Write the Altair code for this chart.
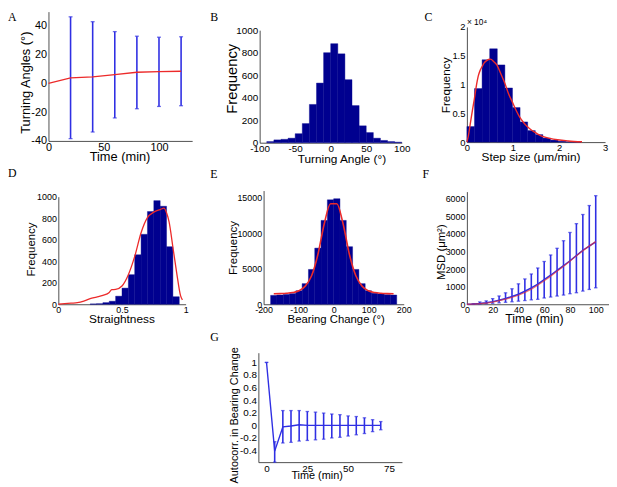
import altair as alt
import pandas as pd

W, H = 609, 479
SANS = "Liberation Sans"
SERIF = "Liberation Serif"
NARROW = "Liberation Sans Narrow, Liberation Sans"
NAVY = "#00008f"
BLUE = "#2f2fe3"
RED = "#ec2a2a"

# ---------------- data ----------------
# A: turning angle vs time
a_t = [0, 20, 40, 60, 80, 100, 120]
a_mean = [0, 3.9, 4.6, 6.2, 7.8, 8.2, 8.5]
a_err_t = [20, 40, 60, 80, 100, 120]
a_low = [-38.4, -33.8, -24.0, -17.6, -16.0, -15.5]
a_high = [46.4, 43.0, 36.1, 32.9, 32.2, 32.5]

# B: turning angle histogram
b_edges = [-90, -80, -70, -60, -50, -40, -30, -20, -10, 0, 10, 20, 30, 40, 50, 60, 70, 80, 90, 100]
b_count = [10, 25, 30, 40, 80, 170, 340, 530, 800, 880, 790, 560, 330, 150, 90, 40, 20, 10, 5]

# C: step size histogram + fit
c_edges = [0, 0.165, 0.33, 0.495, 0.66, 0.825, 0.99, 1.155, 1.32, 1.485, 1.65, 1.815, 1.98, 2.145, 2.31, 2.475]
c_count = [2700, 9300, 14300, 16200, 13400, 9400, 6000, 3500, 2000, 1300, 700, 350, 150, 60, 20]
c_fit_x = [0, 0.03, 0.07, 0.12, 0.16, 0.2, 0.245, 0.29, 0.33, 0.38, 0.42, 0.47, 0.51, 0.58, 0.65, 0.73,
           0.82, 0.9, 0.99, 1.07, 1.15, 1.23, 1.31, 1.4, 1.48, 1.56, 1.64, 1.8, 1.97, 2.2, 2.5]
c_fit_y = [0, 1000, 3000, 5500, 7400, 9500, 11400, 12500, 13100, 13800, 14100, 14350, 14400, 14000, 13400,
           12000, 10300, 8500, 6900, 5500, 4300, 3400, 2700, 2100, 1700, 1300, 1000, 650, 400, 200, 50]

# D: straightness histogram + density
d_edges = [0.25, 0.3, 0.35, 0.4, 0.45, 0.5, 0.55, 0.6, 0.65, 0.7, 0.75, 0.8, 0.85, 0.9, 0.95]
d_count = [3, 5, 15, 28, 75, 150, 275, 460, 650, 862, 963, 911, 535, 70]
d_fit_x = [0, 0.05, 0.1, 0.15, 0.2, 0.25, 0.3, 0.35, 0.4, 0.42, 0.45, 0.5, 0.55, 0.6, 0.65, 0.7, 0.75,
           0.8, 0.83, 0.85, 0.87, 0.9, 0.93, 0.96, 0.975]
d_fit_y = [0, 5, 10, 15, 30, 52, 67, 83, 110, 135, 138, 170, 275, 445, 665, 805, 856, 880, 893, 850, 765,
           530, 290, 80, 40]

# E: bearing change histogram + fit
e_edges = [-180, -162, -144, -126, -108, -90, -72, -54, -36, -18, 0, 18, 36, 54, 72, 90, 108, 126, 144, 162, 180]
e_count = [1250, 1300, 1380, 1500, 1900, 2900, 4900, 7900, 11800, 14700, 14850, 11800, 8100, 4900, 2900,
           1900, 1550, 1450, 1350, 1300]
e_fit_x = [-171, -153, -135, -117, -99, -81, -63, -45, -27, -9, 9, 27, 45, 63, 81, 99, 117, 135, 153, 171]
e_fit_y = [1480, 1500, 1540, 1640, 1900, 2550, 4000, 7000, 11300, 14150, 14150, 11300, 7000, 4050, 2550,
           1900, 1640, 1540, 1500, 1480]

# F: mean squared displacement
f_err_t = [5, 10, 15, 20, 25, 30, 35, 40, 45, 50, 55, 60, 65, 70, 75, 80, 85, 90, 95, 100]
f_low = [5, 15, 30, 55, 80, 110, 140, 175, 210, 250, 280, 355, 410, 466, 522, 598, 655, 748, 841, 935]
f_high = [30, 130, 190, 320, 470, 650, 880, 1160, 1440, 1720, 2060, 2430, 2800, 3180, 3610, 4080, 4580,
          5100, 5610, 6170]
f_t = [0, 5, 10, 15, 20, 25, 30, 35, 40, 45, 50, 55, 60, 65, 70, 75, 80, 85, 90, 95, 100]
f_mean = [0, 10, 40, 85, 150, 230, 330, 440, 570, 740, 930, 1140, 1400, 1650, 1930, 2190, 2470, 2770,
          3070, 3300, 3540]
f_fit_t = [0, 10, 20, 30, 40, 50, 60, 70, 80, 90, 100]
f_fit = [0, 30, 120, 290, 510, 850, 1330, 1880, 2450, 3040, 3560]

# G: autocorrelation of bearing change
g_t = [0, 5, 10, 15, 20, 25, 30, 35, 40, 45, 50, 55, 60, 65, 70]
g_mean = [1, -0.41, -0.025, -0.01, 0.01, 0.0, 0.0, 0.0, 0.0, 0.0, 0.0, 0.0, 0.0, 0.0, 0.0]
g_low = [1, -0.6, -0.28, -0.27, -0.25, -0.24, -0.23, -0.22, -0.2, -0.19, -0.17, -0.15, -0.13, -0.1, -0.07]
g_high = [1, -0.26, 0.235, 0.235, 0.235, 0.22, 0.21, 0.195, 0.18, 0.17, 0.15, 0.14, 0.12, 0.09, 0.06]

# ---------------- layout (pixel geometry of each panel) ----------------
GEOM = {
    "A": dict(xd=[0, 130], xr=[41, 186.6], yd=[-40, 50], yr=[131.5, 0.5],
              xt=[0, 50, 100], yt=[-40, -20, 0, 20, 40], tfs=11, xfs=13, yfs=13,
              xtitle="Time (min)", ytitle="Turning Angles (°)", xtx=113, xty=20, ytx=-16, yty=72),
    "B": dict(xd=[-100, 100], xr=[255, 399], yd=[0, 1000], yr=[133.3, 19.3],
              xt=[-100, -50, 0, 50, 100], yt=[0, 200, 400, 600, 800, 1000], tfs=10, xfs=12, yfs=15,
              xtitle="Turning Angle (°)", ytitle="Frequency", xtx=337.8, xty=20, ytx=-20, yty=68),
    "C": dict(xd=[0, 3], xr=[465, 605], yd=[0, 20000], yr=[132.7, 16],
              xt=[0, 1, 2, 3], yt=[0, 5000, 10000, 15000, 20000], tfs=9.5, xfs=12, yfs=12,
              yfmt="'' + datum.value / 10000",
              xtitle="Step size (μm/min)", ytitle="Frequency", xtx=529.5, xty=19, ytx=-15, yty=74.7),
    "D": dict(xd=[0, 1], xr=[51, 180], yd=[0, 1000], yr=[297, 188],
              xt=[0, 0.5, 1], yt=[0, 200, 400, 600, 800, 1000], tfs=9, xfs=12, yfs=11.6,
              xtitle="Straightness", ytitle="Frequency", xtx=115, xty=19, ytx=-22, yty=241),
    "E": dict(xd=[-200, 200], xr=[259, 401], yd=[0, 16000], yr=[297, 181.8],
              xt=[-200, -100, 0, 100, 200], yt=[0, 5000, 10000, 15000], tfs=9, xfs=11.5, yfs=11.6,
              xtitle="Bearing Change (°)", ytitle="Frequency", xtx=332, xty=19, ytx=-25, yty=239.5),
    "F": dict(xd=[0, 110], xr=[465, 608.6], yd=[0, 6400], yr=[297, 182.9],
              xt=[0, 20, 40, 60, 80, 100], yt=[0, 1000, 2000, 3000, 4000, 5000, 6000], tfs=9, xfs=12.5,
              yfs=11.5, xtitle="Time (min)", ytitle="MSD (μm²)", xtx=533, xty=19, ytx=-21, yty=243.7),
    "G": dict(xd=[-5, 83], xr=[253.7, 399.2], yd=[-0.585, 1.155], yr=[457, 346.1],
              xt=[0, 25, 50, 75], yt=[-0.4, -0.2, 0, 0.2, 0.4, 0.6, 0.8, 1], tfs=10, xfs=11, yfs=11,
              xfont=NARROW, clamp=True,
              xtitle="Time (min)", ytitle="Autocorr. in Bearing Change", xtx=312.7, xty=17, ytx=-19,
              yty=409),
}
LETTERS = {"A": (0, 1), "B": (205, 1), "C": (422, 1), "D": (0, 159.4), "E": (205, 160.4),
           "F": (420, 160.4), "G": (205, 325.4)}


def X(field, g):
    return alt.X(field, type="quantitative",
                 scale=alt.Scale(domain=g["xd"], range=g["xr"], nice=False, zero=False),
                 axis=alt.Axis(orient="bottom", offset=g["yr"][0] - H, values=g["xt"],
                               labelExpr="'' + datum.value", title=g["xtitle"], labelPadding=1,
                               titleX=g["xtx"], titleY=g["xty"], titleBaseline="alphabetic",
                               titleAlign="center", labelFontSize=g["tfs"], titleFontSize=g["xfs"],
                               titleFont=g.get("xfont", SANS)))


def Y(field, g):
    return alt.Y(field, type="quantitative",
                 scale=alt.Scale(domain=g["yd"], range=g["yr"], nice=False, zero=False,
                                 clamp=g.get("clamp", False)),
                 axis=alt.Axis(orient="left", offset=-g["xr"][0], values=g["yt"],
                               labelExpr=g.get("yfmt", "'' + datum.value"), title=g["ytitle"],
                               titleX=g["ytx"], titleY=g["yty"], titleAngle=270,
                               titleBaseline="bottom", titleAlign="center",
                               labelFontSize=g["tfs"], titleFontSize=g["yfs"]))


def letter(k):
    x, y = LETTERS[k]
    return alt.Chart(pd.DataFrame({"k": [k]})).mark_text(
        font=SERIF, fontSize=12, align="left", baseline="top", color="black"
    ).encode(x=alt.value(x), y=alt.value(y), text="k:N")


def hist(edges, counts, g):
    df = pd.DataFrame({"lo": edges[:-1], "hi": edges[1:], "n": counts})
    return alt.Chart(df).mark_rect(color=NAVY, stroke=NAVY, strokeWidth=0.4).encode(
        x=X("lo", g), x2="hi", y=Y("n", g), y2=alt.datum(0))


def line(xv, yv, g, color, width=1.3, interp="linear", opacity=1.0):
    df = pd.DataFrame({"x": xv, "y": yv})
    return alt.Chart(df).mark_line(color=color, strokeWidth=width, interpolate=interp,
                                   opacity=opacity).encode(x=X("x", g), y=Y("y", g))


def errbars(tv, lo, hi, g, cap=4):
    df = pd.DataFrame({"t": tv, "lo": lo, "hi": hi})
    base = alt.Chart(df)
    r = base.mark_rule(color=BLUE, strokeWidth=1.6).encode(x=X("t", g), y=Y("lo", g), y2="hi")
    c1 = base.mark_tick(color=BLUE, orient="horizontal", size=cap, thickness=1.3).encode(
        x=X("t", g), y=Y("lo", g))
    c2 = base.mark_tick(color=BLUE, orient="horizontal", size=cap, thickness=1.3).encode(
        x=X("t", g), y=Y("hi", g))
    return [r, c1, c2]


gA, gB, gC, gD, gE, gF, gG = (GEOM[k] for k in "ABCDEFG")

pA = alt.layer(*errbars(a_err_t, a_low, a_high, gA), line(a_t, a_mean, gA, RED), letter("A"))
pB = alt.layer(hist(b_edges, b_count, gB), letter("B"))
x104 = alt.Chart(pd.DataFrame({"s": ["× 10⁴"]})).mark_text(
    font=SANS, fontSize=8.5, align="left", baseline="alphabetic", color="black"
).encode(x=alt.value(465), y=alt.value(14.3), text="s:N")
pC = alt.layer(hist(c_edges, c_count, gC), line(c_fit_x, c_fit_y, gC, RED, 1.4, "monotone"),
               letter("C"), x104)
pD = alt.layer(hist(d_edges, d_count, gD), line(d_fit_x, d_fit_y, gD, RED, 1.3, "monotone"), letter("D"))
pE = alt.layer(hist(e_edges, e_count, gE), line(e_fit_x, e_fit_y, gE, RED, 1.6, "monotone"), letter("E"))
pF = alt.layer(*errbars(f_err_t, f_low, f_high, gF, cap=3.5), line(f_t, f_mean, gF, BLUE, 1.5),
               line(f_fit_t, f_fit, gF, RED, 1.3, "monotone", 0.65), letter("F"))
pG = alt.layer(*errbars(g_t, g_low, g_high, gG, cap=3.5), line(g_t, g_mean, gG, BLUE, 1.4), letter("G"))

chart = alt.layer(pA, pB, pC, pD, pE, pF, pG).resolve_scale(
    x="independent", y="independent"
).resolve_axis(
    x="independent", y="independent"
).properties(
    width=W, height=H, padding=0
).configure_view(stroke=None).configure_axis(
    grid=False, ticks=False, tickSize=0, domainColor="#222222", domainWidth=0.8,
    labelColor="black", titleColor="black", labelFont=SANS, titleFont=SANS,
    titleFontWeight="normal", labelFlush=False, labelOverlap=False, labelPadding=2
)

chart.save("out.html", embed_options={"renderer": "svg", "actions": False})
